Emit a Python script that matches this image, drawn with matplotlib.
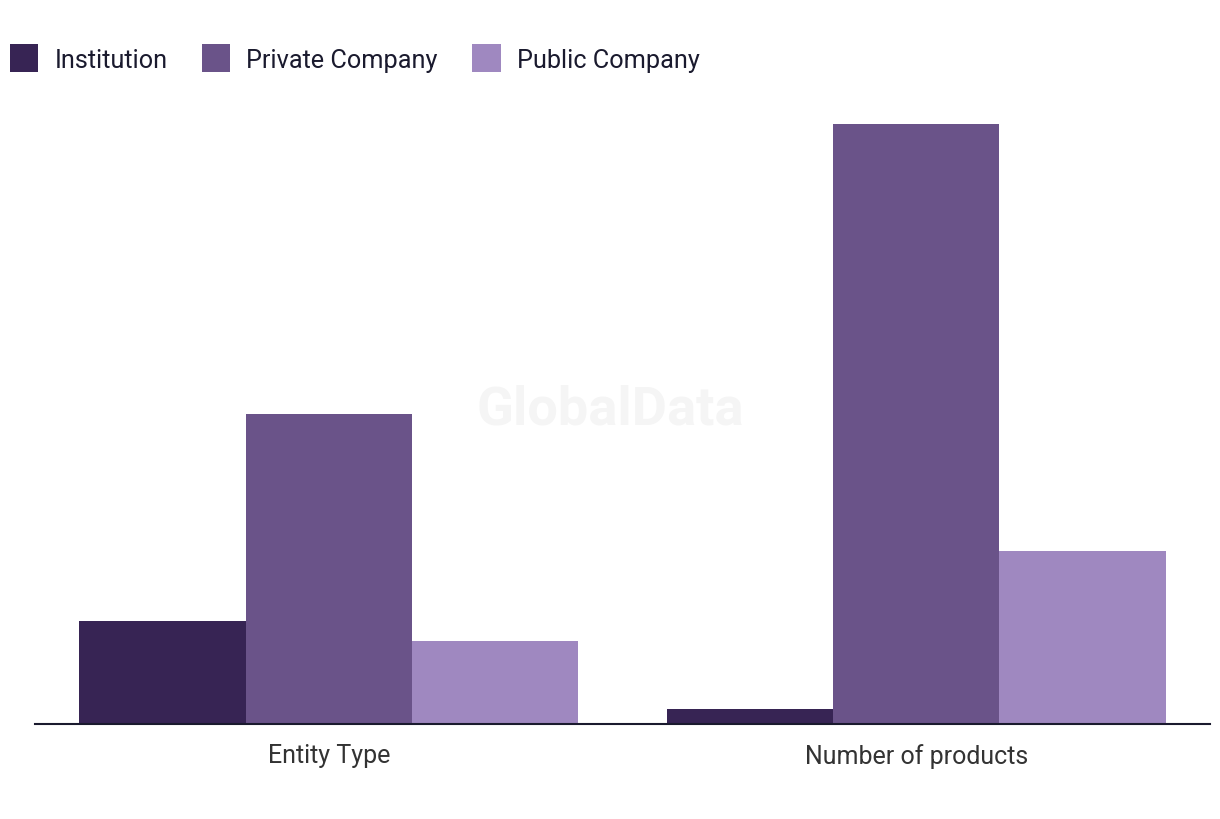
import numpy as np
import matplotlib.pyplot as plt
from matplotlib.patches import Patch

categories = ['Entity Type', 'Number of products']
series_names = ['Institution', 'Private Company', 'Public Company']
institution = [5, 0.73]
private_company = [15, 29]
public_company = [4, 8.35]

colors = ['#372454', '#6a5389', '#9f88c0']

plt.rcParams['font.family'] = ['Roboto', 'DejaVu Sans']

fig = plt.figure(figsize=(12.2, 8.2), dpi=100)
ax = fig.add_axes([35 / 1220, 95 / 820, 1175 / 1220, 629 / 820])

x = np.arange(len(categories))
w = 0.2833
for i, (vals, col) in enumerate(zip([institution, private_company, public_company], colors)):
    ax.bar(x + (i - 1) * w, vals, width=w, color=col, linewidth=0)

ax.set_xlim(-0.5, 1.5)
ax.set_ylim(0, 30.4)
ax.set_xticks(x)
ax.set_xticklabels(categories, fontsize=18, color='#333333')
ax.tick_params(axis='x', length=0, pad=14)
ax.set_yticks([])
for s in ['top', 'right', 'left']:
    ax.spines[s].set_visible(False)
ax.spines['bottom'].set_color('#1a1a2e')
ax.spines['bottom'].set_linewidth(1.5)

# watermark
ax.text(0.5, 0.5, 'GlobalData', transform=fig.transFigure, ha='center', va='center',
        fontsize=39, fontweight='bold', color='#f5f5f5', zorder=0)

handles = [Patch(facecolor=c, edgecolor='none') for c in colors]
fig.legend(handles, series_names, loc='center left', bbox_to_anchor=(10 / 1220, 0.928), ncol=3,
           frameon=False, fontsize=18.2, handlelength=1.12, handleheight=1.3,
           handletextpad=0.64, columnspacing=1.36, borderpad=0, borderaxespad=0,
           labelcolor='#1a1a2e')

fig.savefig('out.png', dpi=100)
